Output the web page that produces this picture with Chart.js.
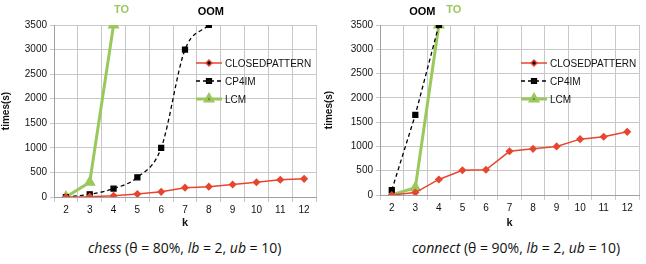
<!DOCTYPE html>
<html>
<head>
<meta charset="utf-8">
<script src="https://cdn.jsdelivr.net/npm/chart.js@4.4.1/dist/chart.umd.min.js"></script>
<style>
  body { margin: 0; background: #fff; width: 646px; height: 264px; overflow: hidden; }
  .wrap { position: absolute; top: 0; }
  .cap { position: absolute; top: 238px; font-family: "Open Sans", sans-serif; font-size: 14px; color: #111; white-space: nowrap; }
</style>
</head>
<body>
<div class="wrap" style="left:0"><canvas id="chess" width="323" height="230"></canvas></div>
<div class="wrap" style="left:323px"><canvas id="connect" width="323" height="230"></canvas></div>
<div class="cap" style="left:88px"><i>chess</i> (θ = 80%, <i>lb</i> = 2, <i>ub</i> = 10)</div>
<div class="cap" style="left:412px"><i>connect</i> (θ = 90%, <i>lb</i> = 2, <i>ub</i> = 10)</div>
<script>
const kLabels = ['2', '3', '4', '5', '6', '7', '8', '9', '10', '11', '12'];
const yTicks = [0, 500, 1000, 1500, 2000, 2500, 3000, 3500];

// chess
const chessClosed = [0, 7, 25, 60, 105, 190, 210, 255, 300, 350, 370];
const chessCp4im = [0, 55, 170, 400, 1000, 3000, 3500];
const chessLcm = [0, 300, 3500];

// connect
const connectClosed = [0, 50, 320, 510, 520, 900, 950, 1000, 1150, 1200, 1300];
const connectCp4im = [100, 1650, 3500];
const connectLcm = [0, 150, 3500];

const RED = '#e8452f';
const GREEN = '#9bc85c';
const BLACK = '#000';

// notes above the plot: [text, category, colour, shift]
const chessNotes = [['TO', '4', GREEN, 8], ['OOM', '8', BLACK, 2]];
const connectNotes = [['OOM', '3', BLACK, 7], ['TO', '4', GREEN, 15]];

const legendNames = ['CLOSEDPATTERN', 'CP4IM', 'LCM'];

const notesPlugin = {
    id: 'notes',
    afterDraw(chart, args, opts) {
        const ctx = chart.ctx;
        const x = chart.scales.x;
        ctx.save();
        ctx.font = 'bold 11px "Liberation Sans", Arial, sans-serif';
        ctx.textAlign = 'center';
        ctx.textBaseline = 'middle';
        opts.items.forEach(([t, cat, col, dx]) => {
            ctx.fillStyle = col;
            ctx.fillText(t, x.getPixelForValue(kLabels.indexOf(cat)) + dx, chart.chartArea.top - 13 + (col === GREEN ? -2 : 0));
        });
        ctx.restore();
    }
};

// legend drawn inside the plot area
const innerLegend = {
    id: 'innerLegend',
    afterDraw(chart, args, opts) {
        const ctx = chart.ctx;
        const a = chart.chartArea;
        const x0 = a.right - opts.fromRight;
        ctx.save();
        chart.data.datasets.forEach((ds, i) => {
            const y = a.top + 38 + i * 18;
            ctx.strokeStyle = ds.borderColor;
            ctx.lineWidth = ds.borderWidth;
            ctx.setLineDash(ds.borderDash || []);
            ctx.beginPath();
            ctx.moveTo(x0, y);
            ctx.lineTo(x0 + 26, y);
            ctx.stroke();
            ctx.setLineDash([]);
            Chart.helpers.drawPoint(ctx, {
                pointStyle: ds.pointStyle, radius: ds.pointRadius, borderWidth: 1
            }, x0 + 13, y);
            ctx.fillStyle = '#111';
            ctx.font = '10px "Liberation Sans", Arial, sans-serif';
            ctx.textBaseline = 'middle';
            ctx.fillText(legendNames[i], x0 + 29, y + 1);
        });
        ctx.restore();
    }
};

function makeChart(id, closed, cp4im, lcm, notes, yWidth, xHeight, padRight, legendRight, cpCurve) {
    const ctx = document.getElementById(id).getContext('2d');
    return new Chart(ctx, {
        type: 'line',
        data: {
            labels: kLabels,
            datasets: [
                {
                    label: 'CLOSEDPATTERN',
                    data: closed,
                    borderColor: RED,
                    backgroundColor: RED,
                    borderWidth: 1.5,
                    pointStyle: 'rectRot',
                    pointRadius: 3
                },
                {
                    label: 'CP4IM',
                    data: cp4im,
                    borderColor: BLACK,
                    backgroundColor: BLACK,
                    borderWidth: 1.3,
                    borderDash: [4, 3],
                    pointStyle: 'rect',
                    pointRadius: 3.5,
                    cubicInterpolationMode: cpCurve ? 'monotone' : 'default',
                    tension: 0
                },
                {
                    label: 'LCM',
                    data: lcm,
                    borderColor: GREEN,
                    backgroundColor: GREEN,
                    borderWidth: 3,
                    pointStyle: 'triangle',
                    pointRadius: 4
                }
            ]
        },
        options: {
            responsive: false,
            animation: false,
            layout: { padding: { top: 25, right: padRight, left: 0, bottom: 0 } },
            plugins: {
                legend: { display: false },
                tooltip: { enabled: false },
                notes: { items: notes },
                innerLegend: { fromRight: legendRight }
            },
            scales: {
                x: {
                    offset: true,
                    grid: { offset: true, color: '#c8c8c8', drawTicks: true, tickLength: 5 },
                    border: { color: '#a0a0a0' },
                    ticks: { color: '#111', font: { size: 10, family: '"Liberation Sans", Arial, sans-serif' }, maxRotation: 0, padding: 2 },
                    title: { display: true, text: 'k', color: '#111', font: { size: 11, weight: 'bold' }, padding: { top: 3, bottom: 0 } },
                    afterFit(s) { s.height = xHeight; }
                },
                y: {
                    min: 0,
                    max: 3500,
                    afterBuildTicks(s) { s.ticks = yTicks.map(v => ({ value: v })); },
                    grid: { color: '#c8c8c8', tickLength: 4 },
                    border: { color: '#a0a0a0' },
                    ticks: {
                        color: '#111',
                        font: { size: 10, family: '"Liberation Sans", Arial, sans-serif' },
                        padding: 3,
                        callback: v => String(v)
                    },
                    title: { display: true, text: 'times(s)', color: '#111', font: { size: 10, weight: 'bold' }, padding: 0 },
                    afterFit(s) { s.width = yWidth; }
                }
            }
        },
        plugins: [notesPlugin, innerLegend]
    });
}

makeChart('chess', chessClosed, chessCp4im, chessLcm, chessNotes, 54, 33, 1, 120, true);
makeChart('connect', connectClosed, connectCp4im, connectLcm, connectNotes, 57, 35, 5, 118, false);
</script>
</body>
</html>
